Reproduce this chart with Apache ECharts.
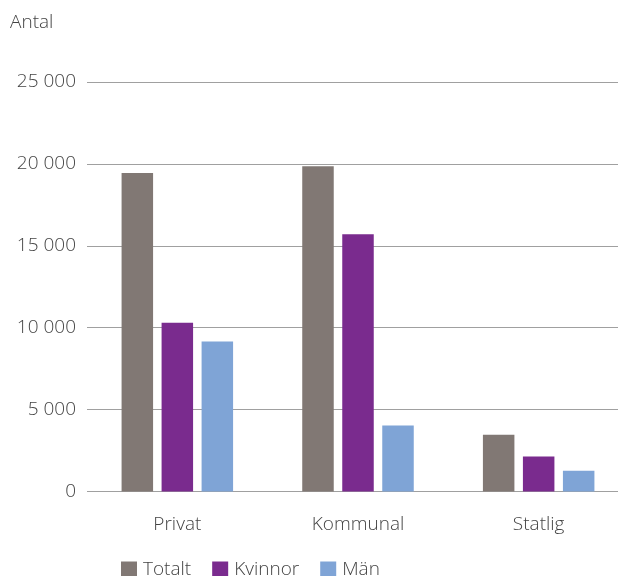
<!DOCTYPE html>
<html>
<head>
<meta charset="utf-8">
<script src="https://cdn.jsdelivr.net/npm/echarts@6/dist/echarts.min.js"></script>
<style>
html,body{margin:0;padding:0;background:#fff;overflow:hidden;}
#chart{width:629px;height:576px;}
</style>
</head>
<body>
<div id="chart"></div>
<script>
const categories = ['Privat', 'Kommunal', 'Statlig'];
const seriesNames = ['Totalt', 'Kvinnor', 'Män'];
const totalt = [19450, 19850, 3470];
const kvinnor = [10300, 15700, 2130];
const man = [9150, 4030, 1260];
const yTicks = [0, 5000, 10000, 15000, 20000, 25000];
const colors = ['#817874', '#7a2b8e', '#7fa4d6'];

const fontFam = '"Open Sans", Lato, "Liberation Sans", sans-serif';
const chart = echarts.init(document.getElementById('chart'), null, {renderer: 'canvas'});
function fmt(v) {
  const s = String(v);
  return s.length > 3 ? s.slice(0, s.length - 3) + ' ' + s.slice(-3) : s;
}
const mkSeries = (name, data, i) => ({
  name: name,
  type: 'bar',
  data: data,
  barWidth: 31.5,
  barGap: '27%',
  itemStyle: {color: colors[i]},
  emphasis: {disabled: true},
  animation: false
});
chart.setOption({
  animation: false,
  textStyle: {fontFamily: fontFam},
  graphic: [{
    type: 'text', left: 10, top: 13,
    style: {text: 'Antal', font: '300 19px ' + fontFam, fill: '#444'}
  }],
  legend: {
    data: seriesNames,
    left: 121, top: 560,
    padding: 0,
    itemWidth: 16, itemHeight: 16,
    itemGap: 21,
    icon: 'rect',
    textStyle: {fontSize: 19, color: '#444', fontWeight: 300, padding: [0, 0, 0, 1]}
  },
  grid: {left: 87, top: 82, right: 0, height: 409.5, containLabel: false},
  xAxis: {
    type: 'category',
    data: categories,
    axisLine: {show: false},
    axisTick: {show: false},
    axisLabel: {fontSize: 19, color: '#444', margin: 24, fontWeight: 300}
  },
  yAxis: {
    type: 'value',
    min: yTicks[0], max: yTicks[yTicks.length - 1], interval: 5000,
    axisLine: {show: false},
    axisTick: {show: false},
    splitLine: {lineStyle: {color: '#a0a0a0', width: 1}},
    axisLabel: {fontSize: 19, color: '#444', margin: 11, fontWeight: 300, formatter: fmt}
  },
  series: [mkSeries(seriesNames[0], totalt, 0), mkSeries(seriesNames[1], kvinnor, 1), mkSeries(seriesNames[2], man, 2)]
});
</script>
</body>
</html>
